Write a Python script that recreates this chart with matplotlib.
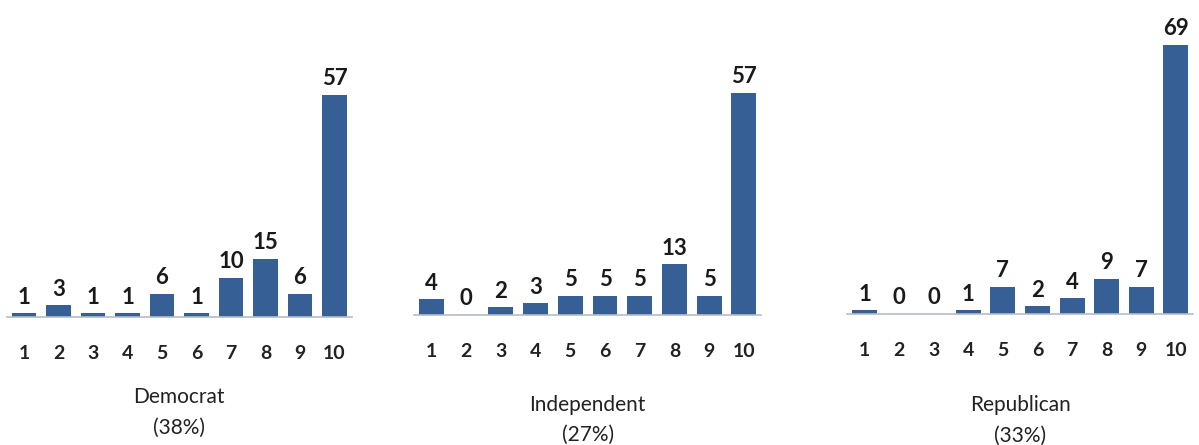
import matplotlib.pyplot as plt

# bar chart of scores 1-10 split by party
scores = list(range(1, 11))
groups = ['Democrat', 'Independent', 'Republican']
shares = ['(38%)', '(27%)', '(33%)']
democrat = [1, 3, 1, 1, 6, 1, 10, 15, 6, 57]
independent = [4, 0, 2, 3, 5, 5, 5, 13, 5, 57]
republican = [1, 0, 0, 1, 7, 2, 4, 9, 7, 69]
series = [democrat, independent, republican]

W, H = 1199, 445
bar_color = '#365f96'
plt.rcParams['font.family'] = ['Lato', 'DejaVu Sans']

fig = plt.figure(figsize=(W / 100, H / 100), dpi=100)

# pixel layout of each panel: (center of bar 1, bar spacing, baseline y, name y, share y)
panels = [(24, 34.5, 317, 397, 428),
          (431.5, 34.7, 315, 405, 435),
          (864.5, 34.6, 314, 405, 436)]
px_per_unit = 3.9
ymax = 80

for (c1, step, base, ny, sy), vals, name, share in zip(panels, series, groups, shares):
    left = c1 - 0.5 * step
    width = 10 * step
    height = ymax * px_per_unit
    ax = fig.add_axes([left / W, (H - base) / H, width / W, height / H])
    ax.bar(scores, vals, width=0.72, color=bar_color)
    ax.set_xlim(0.5, 10.5)
    ax.set_ylim(0, ymax)
    for s in ['top', 'right', 'left']:
        ax.spines[s].set_visible(False)
    ax.spines['bottom'].set_color('#b4bcc8')
    ax.spines['bottom'].set_linewidth(1.2)
    ax.set_yticks([])
    ax.set_xticks(scores)
    ax.set_xticklabels([str(s) for s in scores], fontsize=14, fontweight='bold',
                       color='#222222')
    ax.tick_params(axis='x', length=0, pad=20)
    for x, v in zip(scores, vals):
        ax.annotate(str(v), (x, v), xytext=(0, 4), textcoords='offset points',
                    ha='center', va='bottom', fontsize=16, fontweight='bold',
                    color='#1a1a1a')
    cx = (c1 + 4.5 * step) / W
    fig.text(cx, 1 - ny / H, name, ha='center', va='center', fontsize=15,
             color='#222222')
    fig.text(cx, 1 - sy / H, share, ha='center', va='center', fontsize=15,
             color='#222222')

fig.savefig('out.png', dpi=100)
